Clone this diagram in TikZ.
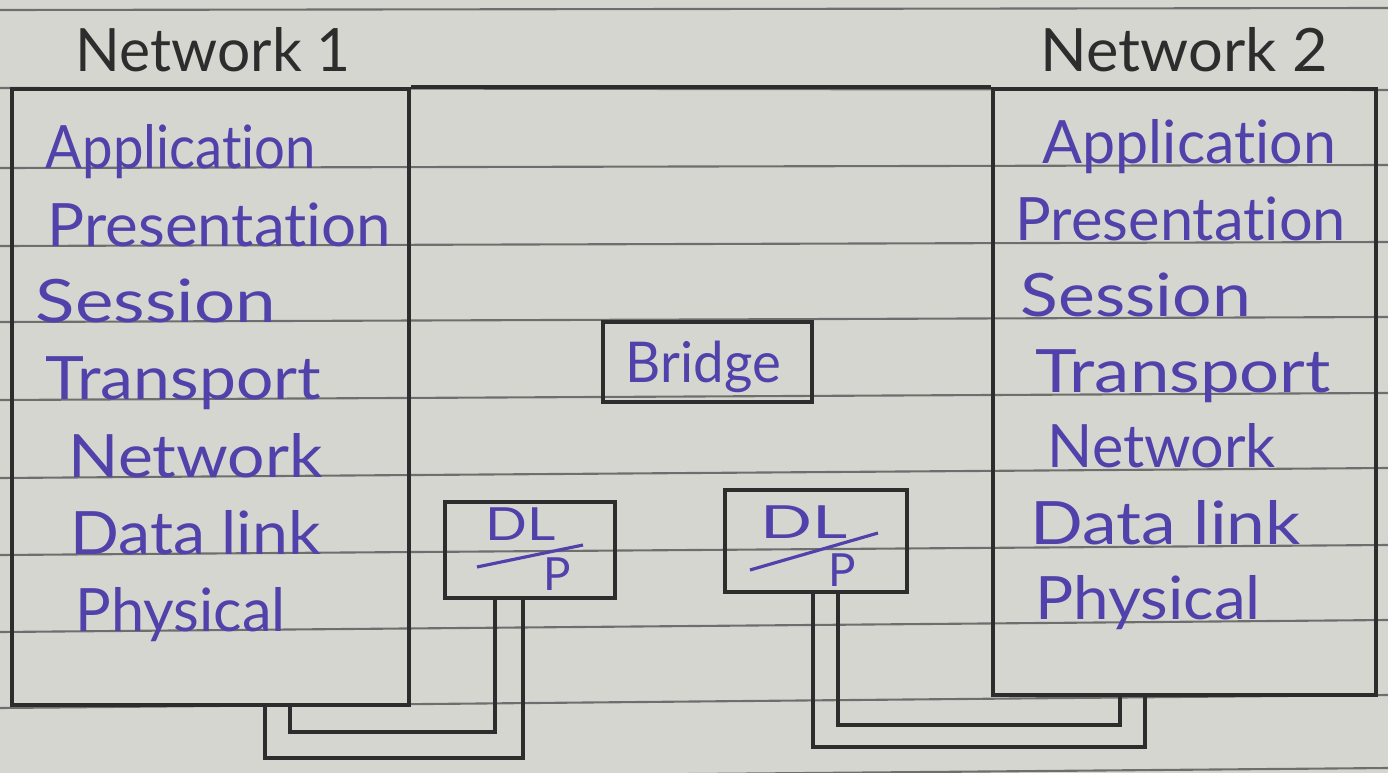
\documentclass[tikz,border=0pt]{standalone}
\usepackage{fontspec}
\setmainfont{Lato}[Ligatures=NoCommon]
\usetikzlibrary{fit,calc}
\definecolor{paper}{RGB}{214,214,209}
\definecolor{ruleline}{RGB}{110,110,110}
\definecolor{ink}{RGB}{80,66,170}
\definecolor{pencil}{RGB}{45,45,45}
\newcommand\hw[2]{\resizebox{#1cm}{\height}{#2}}
\begin{document}
\begin{tikzpicture}[x=0.01cm,y=-0.01cm,
  ruling/.style={draw=ruleline, line width=0.6pt},
  frame/.style={draw=pencil, line width=1pt, inner sep=0pt},
  wire/.style={draw=pencil, line width=1pt},
  layer/.style={text=ink, anchor=base west, inner sep=0pt, font=\fontsize{17}{20}\selectfont},
  head/.style={text=pencil, anchor=base west, inner sep=0pt, font=\fontsize{17}{20}\selectfont},
  small/.style={text=ink, anchor=base west, inner sep=0pt, font=\fontsize{13}{15}\selectfont},
  slash/.style={draw=ink, line width=0.9pt}]
% paper
\fill[paper] (0,0) rectangle (1388,773);
\useasboundingbox (0,0) rectangle (1388,773);
% ruled lines
\foreach \a/\b in {10/8,88/90,168/165,246/242,322/317,400/393,478/468,555/545,632/620,708/695,780/768}
  \draw[ruling] (0,\a) -- (1388,\b);

% headers
\node[head] (h1) at (75,72) {\hw{2.75}{Network 1}};
\node[head] (h2) at (1040,72) {\hw{2.87}{Network 2}};

% network boxes
\node[frame, fit={(12,89) (409,705)}] (netA) {};
\node[frame, fit={(993,89) (1376,695)}] (netB) {};
\draw[wire] (netA.north east) -- (netB.north west);

% left layers
\node[layer] (a1) at (45,169) {\hw{2.70}{Application}};
\node[layer] (a2) at (47,246) {\hw{3.43}{Presentation}};
\node[layer] (a3) at (35,322) {\hw{2.40}{Session}};
\node[layer] (a4) at (45,399) {\hw{2.75}{Transport}};
\node[layer] (a5) at (68,477) {\hw{2.54}{Network}};
\node[layer] (a6) at (70,554) {\hw{2.50}{Data link}};
\node[layer] (a7) at (75,631) {\hw{2.10}{Physical}};

% right layers
\node[layer] (b1) at (1042,164) {\hw{2.93}{Application}};
\node[layer] (b2) at (1015,241) {\hw{3.30}{Presentation}};
\node[layer] (b3) at (1020,316) {\hw{2.30}{Session}};
\node[layer] (b4) at (1035,392) {\hw{2.95}{Transport}};
\node[layer] (b5) at (1047,467) {\hw{2.28}{Network}};
\node[layer] (b6) at (1030,544) {\hw{2.70}{Data link}};
\node[layer] (b7) at (1035,619) {\hw{2.25}{Physical}};

% bridge
\node[frame, fit={(603,322) (812,402)}] (bridge) {};
\node[layer, font=\fontsize{16}{18}\selectfont] (bt) at (625,382) {\hw{1.55}{Bridge}};

% DL/P boxes
\node[frame, fit={(445,502) (615,598)}] (dlpA) {};
\node[small] (dlA) at (485,540) {\hw{0.70}{DL}};
\node[small] (pA) at (543,590) {P};
\draw[slash] (477,567) -- (583,545);

\node[frame, fit={(725,490) (907,592)}] (dlpB) {};
\node[small] (dlB) at (760,538) {\hw{0.87}{DL}};
\node[small] (pB) at (828,586) {P};
\draw[slash] (750,570) -- (878,533);

% wires left
\coordinate (la1) at (495,732);
\coordinate (la2) at (290,732);
\draw[wire] (la1 |- dlpA.south) -- (la1) -- (la2) -- (la2 |- netA.south);
\coordinate (lb1) at (523,758);
\coordinate (lb2) at (265,758);
\draw[wire] (lb1 |- dlpA.south) -- (lb1) -- (lb2) -- (lb2 |- netA.south);

% wires right
\coordinate (ra1) at (813,747);
\coordinate (ra2) at (1145,747);
\draw[wire] (ra1 |- dlpB.south) -- (ra1) -- (ra2) -- (ra2 |- netB.south);
\coordinate (rb1) at (838,725);
\coordinate (rb2) at (1120,725);
\draw[wire] (rb1 |- dlpB.south) -- (rb1) -- (rb2) -- (rb2 |- netB.south);
\end{tikzpicture}
\end{document}
